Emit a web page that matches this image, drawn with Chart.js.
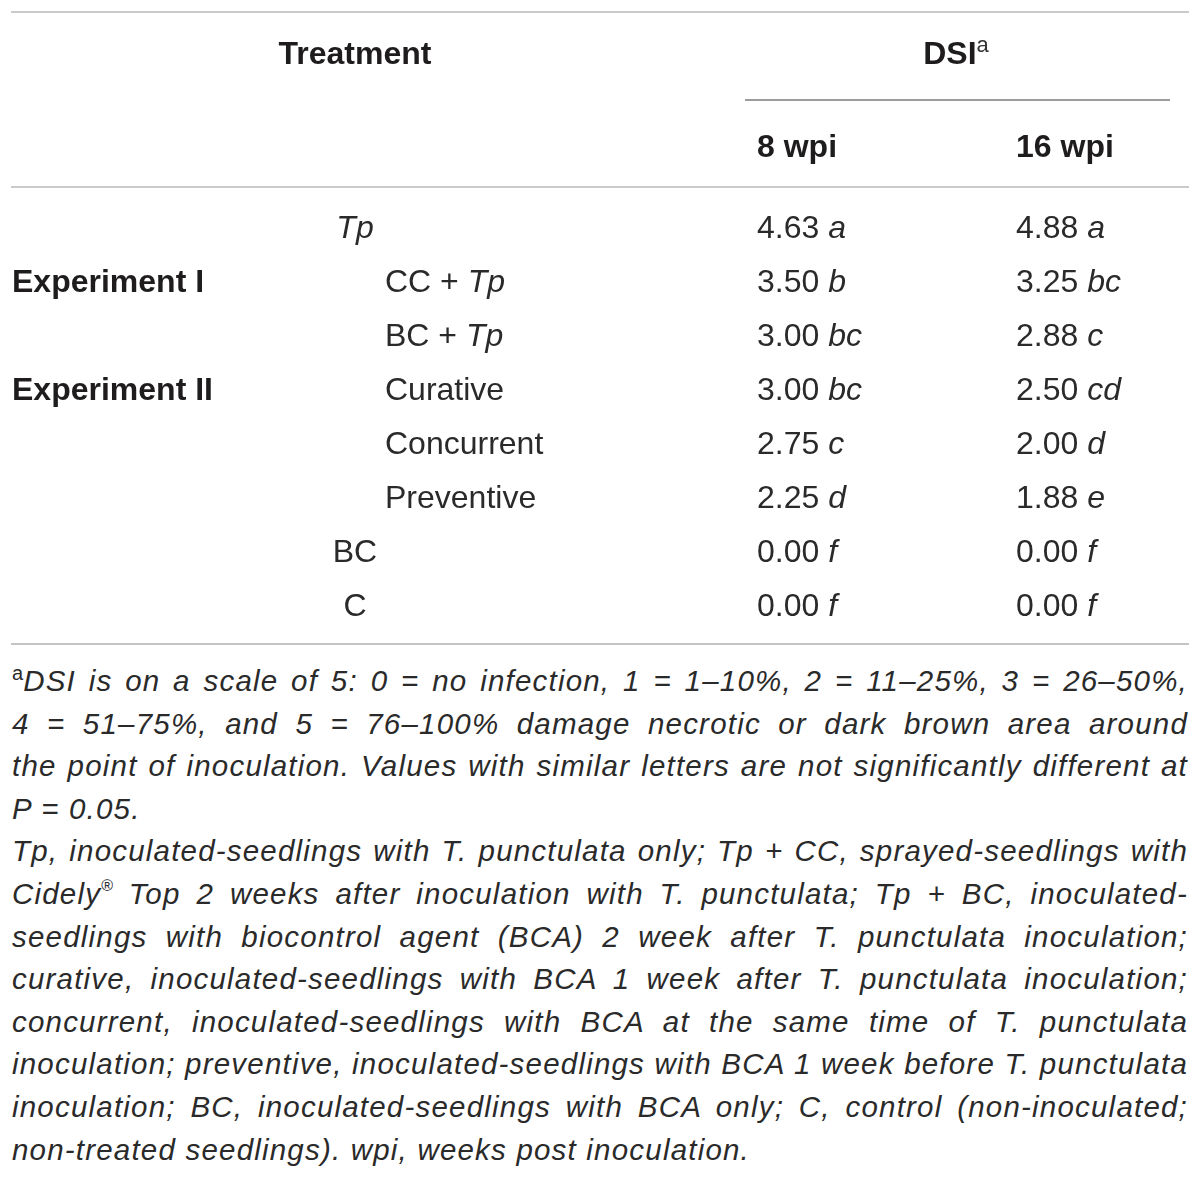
<!DOCTYPE html>
<html>
<head>
<meta charset="utf-8">
<script src="https://cdn.jsdelivr.net/npm/chart.js@4.4.1/dist/chart.umd.min.js"></script>
<style>
  html, body { margin: 0; padding: 0; background: #fff; }
  #wrap { position: relative; width: 1200px; height: 1181px; }
  #tbl { position: absolute; left: 0; top: 0; }
  #notes { position: absolute; left: 12px; top: 660px; width: 1176px;
    font-family: "Liberation Sans", Arial, sans-serif; font-style: italic;
    font-size: 29.5px; letter-spacing: 1.2px; line-height: 42.6px; color: #2a2a2a; }
  #notes .ln { white-space: nowrap; }
  #notes sup { font-style: normal; font-size: 20px; line-height: 0; vertical-align: 11px; letter-spacing: 0; }
  #notes sup.r { font-size: 16px; vertical-align: 13px; }
</style>
</head>
<body>
<div id="wrap">
  <canvas id="tbl" width="1200" height="660"></canvas>
  <div id="notes">
    <div class="ln j"><sup>a</sup>DSI is on a scale of 5: 0 = no infection, 1 = 1–10%, 2 = 11–25%, 3 = 26–50%,</div>
    <div class="ln j">4 = 51–75%, and 5 = 76–100% damage necrotic or dark brown area around</div>
    <div class="ln j">the point of inoculation. Values with similar letters are not significantly different at</div>
    <div class="ln">P = 0.05.</div>
    <div class="ln j">Tp, inoculated-seedlings with T. punctulata only; Tp + CC, sprayed-seedlings with</div>
    <div class="ln j">Cidely<sup class="r">®</sup> Top 2 weeks after inoculation with T. punctulata; Tp + BC, inoculated-</div>
    <div class="ln j">seedlings with biocontrol agent (BCA) 2 week after T. punctulata inoculation;</div>
    <div class="ln j">curative, inoculated-seedlings with BCA 1 week after T. punctulata inoculation;</div>
    <div class="ln j">concurrent, inoculated-seedlings with BCA at the same time of T. punctulata</div>
    <div class="ln j">inoculation; preventive, inoculated-seedlings with BCA 1 week before T. punctulata</div>
    <div class="ln j">inoculation; BC, inoculated-seedlings with BCA only; C, control (non-inoculated;</div>
    <div class="ln">non-treated seedlings). wpi, weeks post inoculation.</div>
  </div>
</div>
<script>
// ---- data ----
const treatments = ['Tp', 'CC + Tp', 'BC + Tp', 'Curative', 'Concurrent', 'Preventive', 'BC', 'C'];
const experimentLabels = ['', 'Experiment I', '', 'Experiment II', '', '', '', ''];
const wpiHeaders = ['8 wpi', '16 wpi'];
const dsi8 = [4.63, 3.50, 3.00, 3.00, 2.75, 2.25, 0.00, 0.00];
const letters8 = ['a', 'b', 'bc', 'bc', 'c', 'd', 'f', 'f'];
const dsi16 = [4.88, 3.25, 2.88, 2.50, 2.00, 1.88, 0.00, 0.00];
const letters16 = ['a', 'bc', 'c', 'cd', 'd', 'e', 'f', 'f'];
const centeredTreatments = ['Tp', 'BC', 'C'];

// ---- helpers ----
const FAM = '"Liberation Sans", Arial, sans-serif';
const TXT = '#2a2a2a';
const BOLD = '#1f1c1d';
function fontFor(s) {
  return (s.italic ? 'italic ' : '') + (s.bold ? 'bold ' : '') + (s.size || 32) + 'px ' + FAM;
}
function drawRich(ctx, segs, x, y, align) {
  let total = 0;
  segs.forEach(s => { ctx.font = fontFor(s); s.w = ctx.measureText(s.t).width; total += s.w; });
  let cx = align === 'center' ? x - total / 2 : x;
  segs.forEach(s => {
    ctx.font = fontFor(s);
    ctx.fillStyle = s.color || (s.bold ? BOLD : TXT);
    ctx.fillText(s.t, cx, y - (s.rise || 0));
    cx += s.w;
  });
}
function treatmentSegs(label) {
  const parts = label.split(/(Tp)/).filter(p => p.length);
  return parts.map(p => ({ t: p, italic: p === 'Tp' }));
}

const tablePlugin = {
  id: 'tablePlugin',
  afterDraw(chart, args, o) {
    const ctx = chart.ctx;
    const ys = chart.scales.y;
    ctx.save();
    ctx.textBaseline = 'alphabetic';
    function rule(x1, x2, y, color) {
      ctx.beginPath(); ctx.strokeStyle = color; ctx.lineWidth = 2;
      ctx.moveTo(x1, y); ctx.lineTo(x2, y); ctx.stroke();
    }
    rule(o.left, o.right, o.topRule, '#cacaca');
    rule(o.dsiRuleL, o.dsiRuleR, o.dsiRule, '#9c9c9c');
    rule(o.left, o.right, o.headRule, '#cacaca');
    rule(o.left, o.right, o.bottomRule, '#c4c4c4');
    // headers
    drawRich(ctx, [{ t: 'Treatment', bold: true }], o.treatCenter, o.head1, 'center');
    drawRich(ctx, [{ t: 'DSI', bold: true }, { t: 'a', size: 22, rise: 12, color: '#333' }], o.dsiCenter, o.head1, 'center');
    const metas = [chart.getDatasetMeta(0), chart.getDatasetMeta(1)];
    metas.forEach((m, k) => {
      drawRich(ctx, [{ t: wpiHeaders[k], bold: true }], m.data[0].x, o.head2, 'left');
    });
    // row labels
    treatments.forEach((t, i) => {
      const yb = ys.getPixelForValue(i) + o.baseShift;
      if (experimentLabels[i]) drawRich(ctx, [{ t: experimentLabels[i], bold: true }], o.expX, yb, 'left');
      if (centeredTreatments.includes(t)) drawRich(ctx, treatmentSegs(t), o.treatCenter, yb, 'center');
      else drawRich(ctx, treatmentSegs(t), o.subLeft, yb, 'left');
    });
    // values
    const vals = [dsi8, dsi16], lets = [letters8, letters16];
    metas.forEach((m, k) => {
      m.data.forEach((pt, i) => {
        drawRich(ctx, [{ t: vals[k][i].toFixed(2) + ' ' }, { t: lets[k][i], italic: true }], pt.x, pt.y + o.baseShift, 'left');
      });
    });
    ctx.restore();
  }
};

new Chart(document.getElementById('tbl'), {
  type: 'scatter',
  data: {
    datasets: [
      { label: wpiHeaders[0], data: dsi8.map((v, i) => ({ x: 0, y: i })) },
      { label: wpiHeaders[1], data: dsi16.map((v, i) => ({ x: 1, y: i })) }
    ]
  },
  options: {
    responsive: false,
    animation: false,
    devicePixelRatio: 1,
    layout: { padding: { top: 200, bottom: 28, left: 0, right: 0 } },
    elements: { point: { radius: 0, hoverRadius: 0 } },
    scales: {
      x: { type: 'linear', display: false, min: -757 / 259, max: (1200 - 757) / 259 },
      y: { type: 'linear', display: false, reverse: true, min: -0.5, max: treatments.length - 0.5 }
    },
    plugins: {
      legend: { display: false },
      tooltip: { enabled: false },
      tablePlugin: {
        left: 11, right: 1189, topRule: 12, headRule: 187, bottomRule: 644,
        dsiRule: 100, dsiRuleL: 745, dsiRuleR: 1170,
        head1: 64, head2: 157, baseShift: 11,
        treatCenter: 355, dsiCenter: 956, expX: 12, subLeft: 385
      }
    }
  },
  plugins: [tablePlugin]
});

// justify footnote lines to the full width
document.querySelectorAll('#notes .ln.j').forEach(el => {
  const W = 1176;
  const span = document.createElement('span');
  while (el.firstChild) span.appendChild(el.firstChild);
  el.appendChild(span);
  const w = span.getBoundingClientRect().width;
  const n = (span.textContent.match(/ /g) || []).length;
  if (n > 0) el.style.wordSpacing = ((W - w) / n) + 'px';
});
</script>
</body>
</html>
